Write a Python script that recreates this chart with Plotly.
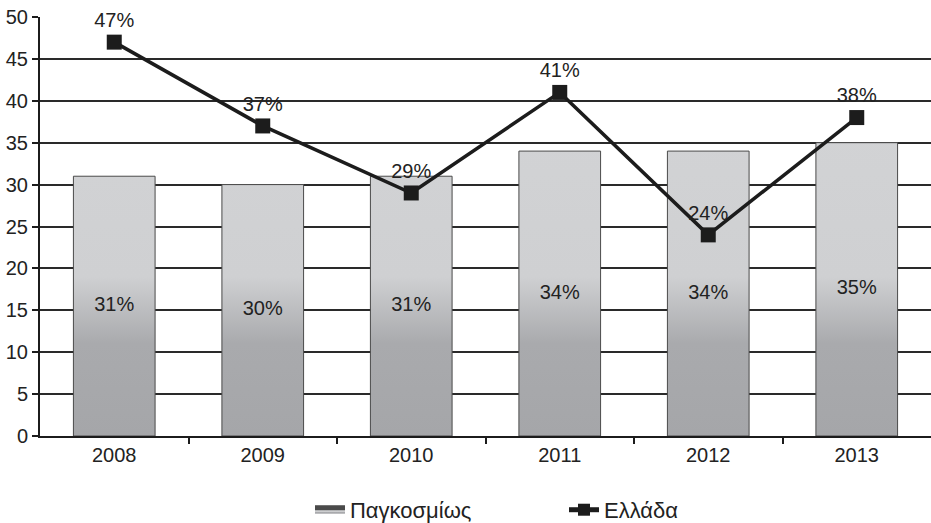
import plotly.graph_objects as go

years = ["2008", "2009", "2010", "2011", "2012", "2013"]
world = [31, 30, 31, 34, 34, 35]
greece = [47, 37, 29, 41, 24, 38]

BAR_W = 0.55
FONT = "Liberation Sans, Arial, sans-serif"

idx = list(range(len(years)))

# bars as filled polygons so they can carry a vertical gradient
bx, by = [], []
for i, v in zip(idx, world):
    bx += [i - BAR_W / 2, i - BAR_W / 2, i + BAR_W / 2, i + BAR_W / 2, i - BAR_W / 2, None]
    by += [0, v, v, 0, 0, None]

fig = go.Figure()

fig.add_trace(go.Scatter(
    x=bx, y=by,
    mode="lines",
    fill="toself",
    line=dict(color="#4a4a4a", width=1),
    fillgradient=dict(
        type="vertical",
        start=0, stop=50,
        colorscale=[[0, "#a5a6a9"], [0.22, "#a9aaad"], [0.38, "#cfd0d2"], [1, "#d4d5d7"]],
    ),
    name="Παγκοσμίως",
    hoverinfo="skip",
))

fig.add_trace(go.Scatter(
    x=idx, y=[v / 2 for v in world],
    mode="text",
    text=[f"{v}%" for v in world],
    textfont=dict(size=20, color="#222222", family=FONT),
    showlegend=False,
    hoverinfo="skip",
))

fig.add_trace(go.Scatter(
    x=idx, y=greece,
    mode="lines+markers+text",
    line=dict(color="#1c1c1c", width=3.5),
    marker=dict(symbol="square", size=15, color="#1c1c1c"),
    text=[f"{v}%" for v in greece],
    textposition="top center",
    textfont=dict(size=20, color="#222222", family=FONT),
    cliponaxis=False,
    name="Ελλάδα",
))

fig.update_layout(
    width=931, height=523,
    margin=dict(l=40, r=0, t=17, b=87),
    paper_bgcolor="white",
    plot_bgcolor="white",
    font=dict(family=FONT, size=20, color="#222222"),
    showlegend=True,
    legend=dict(
        orientation="h",
        x=0.303, xanchor="left",
        yref="container",
        y=0.025, yanchor="middle",
        entrywidth=209,
        font=dict(size=22, color="#222222"),
        itemsizing="constant",
    ),
)

fig.update_xaxes(
    range=[-0.5, 5.5],
    tickvals=idx,
    ticktext=years,
    showgrid=False,
    showline=True, linecolor="#1c1c1c", linewidth=2,
    zeroline=False,
    ticks="",
    minor=dict(tickvals=[i + 0.5 for i in idx[:-1]], ticks="outside", ticklen=6,
               tickcolor="#1c1c1c", tickwidth=2),
    tickfont=dict(size=20),
    automargin=False,
)

fig.update_yaxes(
    range=[0, 50],
    dtick=5,
    showgrid=True, gridcolor="#2a2a2a", gridwidth=2,
    showline=True, linecolor="#1c1c1c", linewidth=2,
    zeroline=False,
    ticks="outside", ticklen=6, tickcolor="#1c1c1c", tickwidth=2,
    tickfont=dict(size=20),
    ticklabeloverflow="allow",
    automargin=False,
)

# drop the default 8px body margin so the figure fills the window
fig.write_html(
    "out.html",
    config={"displayModeBar": False},
    post_script="document.body.style.margin = '0';",
)
